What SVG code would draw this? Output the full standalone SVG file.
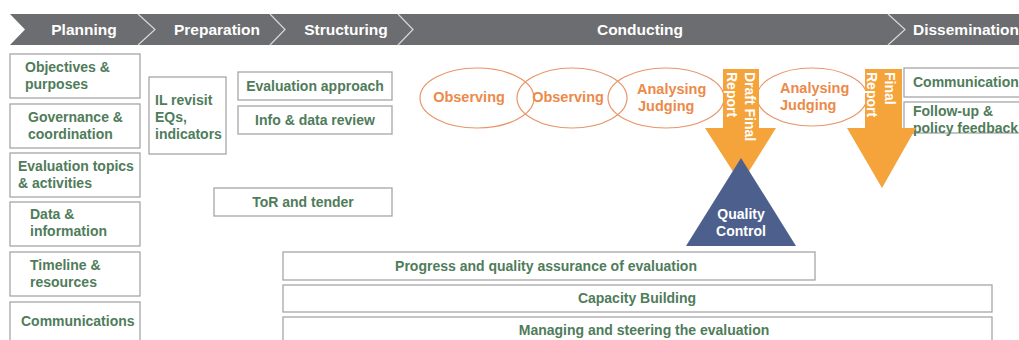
<svg xmlns="http://www.w3.org/2000/svg" width="1019" height="340" viewBox="0 0 1019 340">
<style>
.box{fill:#fff;stroke:#a6a6a6;stroke-width:1.3}
.t{font-family:"Liberation Sans",Arial,sans-serif;font-weight:bold;font-size:14px;fill:#4f7c5a}
.n{font-family:"Liberation Sans Narrow","Liberation Sans",Arial,sans-serif;font-weight:bold;font-size:14px;fill:#4f7c5a}
.h{font-family:"Liberation Sans",Arial,sans-serif;font-weight:bold;font-size:15.5px;fill:#fff}
.e{fill:#fff;fill-opacity:0;stroke:#e8956a;stroke-width:1.2}
.o{font-family:"Liberation Sans",Arial,sans-serif;font-weight:bold;font-size:14.5px;fill:#ec8a4a}
.w{font-family:"Liberation Sans",Arial,sans-serif;font-weight:bold;font-size:14px;fill:#fff}
.arr{fill:#f5a33b}
.sep{fill:none;stroke:#d8d8d8;stroke-width:1.2}
</style>
<rect width="1019" height="340" fill="#fff"/>
<g id="header">
<path d="M10,14 H1019 V45 H10 L25,29.5 Z" fill="#6c6d70"/>
<path class="sep" d="M138,14 L155,29.5 L138,45"/>
<path class="sep" d="M270,14 L285,29.5 L270,45"/>
<path class="sep" d="M398,14 L413,29.5 L398,45"/>
<path class="sep" d="M888,14 L905,29.5 L888,45"/>
<text class="h" x="84" y="35" text-anchor="middle">Planning</text>
<text class="h" x="217" y="35" text-anchor="middle">Preparation</text>
<text class="h" x="346" y="35" text-anchor="middle">Structuring</text>
<text class="h" x="640" y="35" text-anchor="middle">Conducting</text>
<text class="h" x="913" y="35">Dissemination</text>
</g>
<g id="objectives"><rect class="box" x="10" y="54" width="130" height="44"/><text class="t" x="25" y="72">Objectives &amp;</text><text class="t" x="25" y="89">purposes</text></g>
<g id="governance"><rect class="box" x="10" y="104" width="130" height="44"/><text class="t" x="28" y="122">Governance &amp;</text><text class="t" x="28" y="139">coordination</text></g>
<g id="topics"><rect class="box" x="10" y="153" width="130" height="44"/><text class="t" x="18" y="171">Evaluation topics</text><text class="t" x="18" y="188">&amp; activities</text></g>
<g id="data"><rect class="box" x="10" y="202" width="130" height="44"/><text class="t" x="30" y="219">Data &amp;</text><text class="t" x="30" y="236">information</text></g>
<g id="timeline"><rect class="box" x="10" y="252" width="130" height="44"/><text class="t" x="30" y="270">Timeline &amp;</text><text class="t" x="30" y="287">resources</text></g>
<g id="communications"><rect class="box" x="10" y="302" width="130" height="50"/><text class="t" x="21" y="326">Communications</text></g>
<g id="ilrevisit"><rect class="box" x="149" y="77" width="77" height="77"/><text class="t" x="155" y="105">IL revisit</text><text class="t" x="155" y="122">EQs,</text><text class="t" x="155" y="139">indicators</text></g>
<g id="evalapproach"><rect class="box" x="238" y="72" width="154" height="28"/><text class="t" x="315" y="91" text-anchor="middle">Evaluation approach</text></g>
<g id="infodata"><rect class="box" x="238" y="106" width="154" height="28"/><text class="t" x="315" y="125" text-anchor="middle">Info &amp; data review</text></g>
<g id="tor"><rect class="box" x="214" y="188" width="178" height="28"/><text class="t" x="303" y="207" text-anchor="middle">ToR and tender</text></g>
<g id="progress"><rect class="box" x="283" y="252" width="532" height="28"/><text class="n" x="546" y="271" text-anchor="middle">Progress and quality assurance of evaluation</text></g>
<g id="capacity"><rect class="box" x="283" y="285" width="709" height="27"/><text class="n" x="637" y="303" text-anchor="middle">Capacity Building</text></g>
<g id="managing"><rect class="box" x="283" y="317" width="709" height="30"/><text class="n" x="644" y="335" text-anchor="middle">Managing and steering the evaluation</text></g>
<g id="communication"><rect class="box" x="904" y="68" width="120" height="29"/><text class="t" x="913" y="87">Communication</text></g>
<g id="followup"><rect class="box" x="904" y="102" width="120" height="31"/><text class="t" x="913" y="116">Follow-up &amp;</text><text class="t" x="913" y="133">policy feedback</text></g>
<g id="observing1"><ellipse class="e" cx="477" cy="98" rx="57" ry="30"/><text class="o" x="469" y="102" text-anchor="middle">Observing</text></g>
<g id="observing2"><ellipse class="e" cx="572" cy="98" rx="55" ry="30"/><text class="o" x="568" y="102" text-anchor="middle">Observing</text></g>
<g id="analysing1"><ellipse class="e" cx="666" cy="98" rx="58" ry="30"/><text class="o" x="637" y="94">Analysing</text><text class="o" x="638" y="111">Judging</text></g>
<g id="analysing2"><ellipse class="e" cx="812" cy="97" rx="55" ry="29"/><text class="o" x="780" y="93">Analysing</text><text class="o" x="780" y="110">Judging</text></g>
<g id="connectors">
<path id="draftarrow" class="arr" d="M723,69 H759 V128 H776 L741,184 L705,128 H723 Z"/>
<path id="finalarrow" class="arr" d="M865,69 H902 V128 H916 L882,188 L847,128 H865 Z"/>
</g>
<g id="draftlabel"><text class="w" transform="translate(745,72) rotate(90)">Draft Final</text><text class="w" transform="translate(727,72) rotate(90)">Report</text></g>
<g id="finallabel"><text class="w" transform="translate(885,72) rotate(90)">Final</text><text class="w" transform="translate(867,72) rotate(90)">Report</text></g>
<g id="quality"><path d="M741,158 L796,246 H686 Z" fill="#4d5f8c"/><text class="w" x="741" y="219" text-anchor="middle">Quality</text><text class="w" x="741" y="236" text-anchor="middle">Control</text></g>
</svg>
